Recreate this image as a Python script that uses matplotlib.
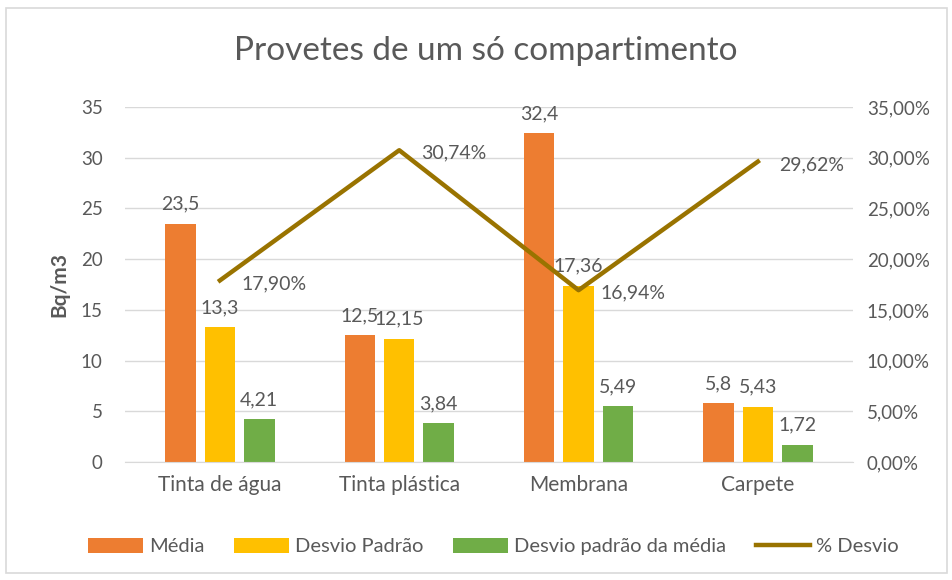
import numpy as np
import matplotlib.pyplot as plt
from matplotlib.patches import Rectangle

# data
categorias = ['Tinta de água', 'Tinta plástica', 'Membrana', 'Carpete']
media = [23.5, 12.5, 32.4, 5.8]
desvio = [13.3, 12.15, 17.36, 5.43]
desvio_media = [4.21, 3.84, 5.49, 1.72]
pct_desvio = [17.90, 30.74, 16.94, 29.62]

cinza = '#595959'
plt.rcParams['font.family'] = ['Lato', 'DejaVu Sans']


def fmt(v, casas=None):
    s = f"{v:.{casas}f}" if casas is not None else f"{v:g}"
    return s.replace('.', ',')


fig = plt.figure(figsize=(9.53, 5.8), dpi=100)
fig.patches.append(Rectangle((0.006, 0.012), 0.988, 0.975, transform=fig.transFigure,
                             fill=False, edgecolor='#d9d9d9', linewidth=1.2))
ax = fig.add_axes([0.131, 0.2034, 0.764, 0.6121])
ax2 = ax.twinx()

x = np.arange(len(categorias))
w = 0.17
passo = 0.22
series = [(media, '#ed7d31', 'Média'),
          (desvio, '#ffc000', 'Desvio Padrão'),
          (desvio_media, '#70ad47', 'Desvio padrão da média')]
for i, (vals, cor, nome) in enumerate(series):
    pos = x + (i - 1) * passo
    ax.bar(pos, vals, w, color=cor, label=nome, zorder=2)
    for p, v in zip(pos, vals):
        ax.text(p, v + 1.1, fmt(v), ha='center', va='bottom', fontsize=14, color=cinza)

ax2.plot(x, pct_desvio, color='#997300', linewidth=3.2, label='% Desvio', zorder=3)
for xi, v in zip(x, pct_desvio):
    ax2.text(xi + 0.12, v - 0.3, fmt(v, 2) + '%', ha='left', va='center', fontsize=14,
             color=cinza)

ax.set_xlim(-0.53, 3.53)
ax.set_ylim(0, 35)
ax2.set_ylim(0, 35)
ax.set_yticks(range(0, 36, 5))
ax2.set_yticks(range(0, 36, 5))
ax2.set_yticklabels([fmt(t, 2) + '%' for t in range(0, 36, 5)])
ax.set_xticks(x)
ax.set_xticklabels(categorias)
ax.grid(axis='y', color='#d9d9d9', linewidth=1, zorder=0)
ax.set_axisbelow(True)

for a in (ax, ax2):
    for s in a.spines.values():
        s.set_visible(False)
    a.tick_params(length=0, labelsize=13.5, labelcolor=cinza)
ax.spines['bottom'].set_visible(True)
ax.spines['bottom'].set_color('#d9d9d9')
ax.tick_params(axis='x', pad=9, labelsize=15)
ax.tick_params(axis='y', pad=16)
ax2.tick_params(axis='y', pad=10)
ax.set_ylabel('Bq/m3', fontsize=15, color=cinza, fontweight='bold', labelpad=8)

fig.text(0.51, 0.912, 'Provetes de um só compartimento', ha='center', va='center',
         fontsize=24, color=cinza)

h1, l1 = ax.get_legend_handles_labels()
h2, l2 = ax2.get_legend_handles_labels()
fig.legend(h1 + h2, l1 + l2, loc='center', bbox_to_anchor=(0.518, 0.058), ncol=4,
           frameon=False, fontsize=14.5, labelcolor=cinza, handlelength=2.7,
           handleheight=0.8, handletextpad=0.3, columnspacing=1.5)

fig.savefig('out.png', dpi=100)
